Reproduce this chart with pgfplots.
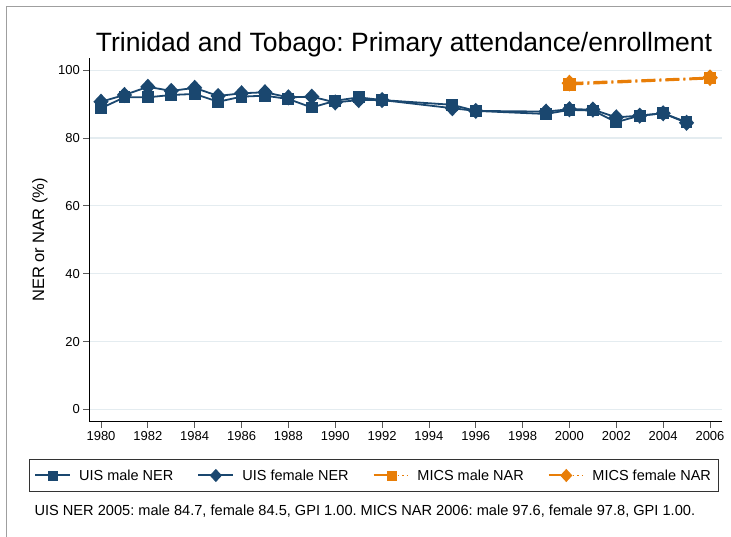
\documentclass[border=0pt]{standalone}
\usepackage{pgfplots}
\pgfplotsset{compat=1.18}
\usepackage{pgfplotstable}
\usepackage{fontspec}
\setmainfont{Liberation Sans}
\frenchspacing
\definecolor{stnavy}{RGB}{26,71,111}
\definecolor{storange}{RGB}{232,126,8}
\definecolor{stgrid}{RGB}{228,236,240}
\pgfplotstableread{
year male female
1980 88.8 90.7
1981 92.0 92.7
1982 92.0 95.1
1983 92.7 93.9
1984 93.0 94.8
1985 90.7 92.4
1986 92.2 93.2
1987 92.5 93.5
1988 91.5 92.0
1989 89.0 92.2
1990 91.0 90.5
1991 92.0 91.2
1992 91.2 91.2
1995 89.8 88.8
1996 88.0 88.0
1999 87.1 87.8
2000 88.3 88.5
2001 88.1 88.4
2002 84.7 86.1
2003 86.6 86.6
2004 87.3 87.3
2005 84.7 84.5
}\uis
\pgfplotstableread{
year male female
2000 95.8 96.2
2006 97.6 97.8
}\mics
\begin{document}
\begin{tikzpicture}
\useasboundingbox (0,0) rectangle (731pt,-536pt);
\draw[gray!75, line width=1pt] (6pt,-6pt) rectangle (800pt,-600pt);
\node[anchor=base, font=\fontsize{26.5}{30}\selectfont] at (404pt,-51pt) {Trinidad and Tobago: Primary attendance/enrollment};
\begin{axis}[
  at={(89.3pt,-421.7pt)}, anchor=south west,
  scale only axis, width=632.4pt, height=363.7pt,
  xmin=1979.5, xmax=2006.5, ymin=-3.64, ymax=103.6,
  axis x line*=bottom, axis y line*=left,
  axis line style={black, line width=0.8pt, -},
  xtick={1980,1982,...,2006}, ytick={0,20,...,100},
  x tick label style={/pgf/number format/1000 sep={}},
  /pgf/number format/assume math mode=true,
  tick label style={font=\fontsize{13}{15}\selectfont},
  tick align=outside, major tick length=6pt,
  tick style={gray!70!black, line width=0.8pt},
  ymajorgrids, grid style={stgrid, line width=1.2pt},
  ylabel={NER or NAR (\%)},
  ylabel style={font=\fontsize{16.5}{18}\selectfont, at={(axis description cs:-0.078,0.5)}, anchor=center},
  clip=false,
]
\addplot[stnavy, line width=1.8pt, mark=square*, mark size=5pt, mark options={solid}]
  table[x=year, y=male] {\uis};
\addplot[stnavy, line width=1.8pt, mark=diamond*, mark size=6.8pt, mark options={solid, xscale=1.25}]
  table[x=year, y=female] {\uis};
\addplot[storange, line width=2.2pt, dash pattern=on 14pt off 4pt on 2pt off 4pt, mark=square*, mark size=5pt, mark options={solid}]
  table[x=year, y=male] {\mics};
\addplot[storange, line width=2.2pt, dash pattern=on 14pt off 4pt on 2pt off 4pt, mark=diamond*, mark size=6.8pt, mark options={solid, xscale=1.25}]
  table[x=year, y=female] {\mics};
\end{axis}
\begin{axis}[
  at={(89.3pt,-421.7pt)}, anchor=south west,
  scale only axis, width=632.4pt, height=363.7pt,
  xmin=0, xmax=1, ymin=0, ymax=1, hide axis,
  legend columns=4,
  legend style={at={(axis description cs:0.4494,-0.1479)}, anchor=center, draw=black!80, line width=0.8pt,
    font=\fontsize{14.5}{16}\selectfont, inner xsep=5pt, inner ysep=8pt,
    /tikz/every odd column/.append style={column sep=6pt},
    /tikz/every even column/.append style={column sep=22pt}},
  legend cell align=left,
]
\addlegendimage{legend image code/.code={
  \draw[stnavy, line width=2pt] (0pt,0pt) -- (35pt,0pt);
  \fill[stnavy] (13.5pt,-4.5pt) rectangle (22.5pt,4.5pt);}}
\addlegendentry{UIS male NER}
\addlegendimage{legend image code/.code={
  \draw[stnavy, line width=2pt] (0pt,0pt) -- (35pt,0pt);
  \fill[stnavy] (17.5pt,-6pt) -- (23pt,0pt) -- (17.5pt,6pt) -- (12pt,0pt) -- cycle;}}
\addlegendentry{UIS female NER}
\addlegendimage{legend image code/.code={
  \draw[storange, line width=2pt] (0pt,0pt) -- (17pt,0pt);
  \draw[storange, line width=1.4pt, dash pattern=on 1.5pt off 3pt] (24pt,0pt) -- (35pt,0pt);
  \fill[storange] (13.5pt,-4.5pt) rectangle (22.5pt,4.5pt);}}
\addlegendentry{MICS male NAR}
\addlegendimage{legend image code/.code={
  \draw[storange, line width=2pt] (0pt,0pt) -- (17pt,0pt);
  \draw[storange, line width=1.4pt, dash pattern=on 1.5pt off 3pt] (24pt,0pt) -- (35pt,0pt);
  \fill[storange] (17.5pt,-6pt) -- (23pt,0pt) -- (17.5pt,6pt) -- (12pt,0pt) -- cycle;}}
\addlegendentry{MICS female NAR}
\end{axis}
\node[anchor=base west, font=\fontsize{14.6}{17}\selectfont] at (31pt,-515pt) {UIS NER 2005: male 84.7, female 84.5, GPI 1.00. MICS NAR 2006: male 97.6, female 97.8, GPI 1.00.};
\end{tikzpicture}
\end{document}
